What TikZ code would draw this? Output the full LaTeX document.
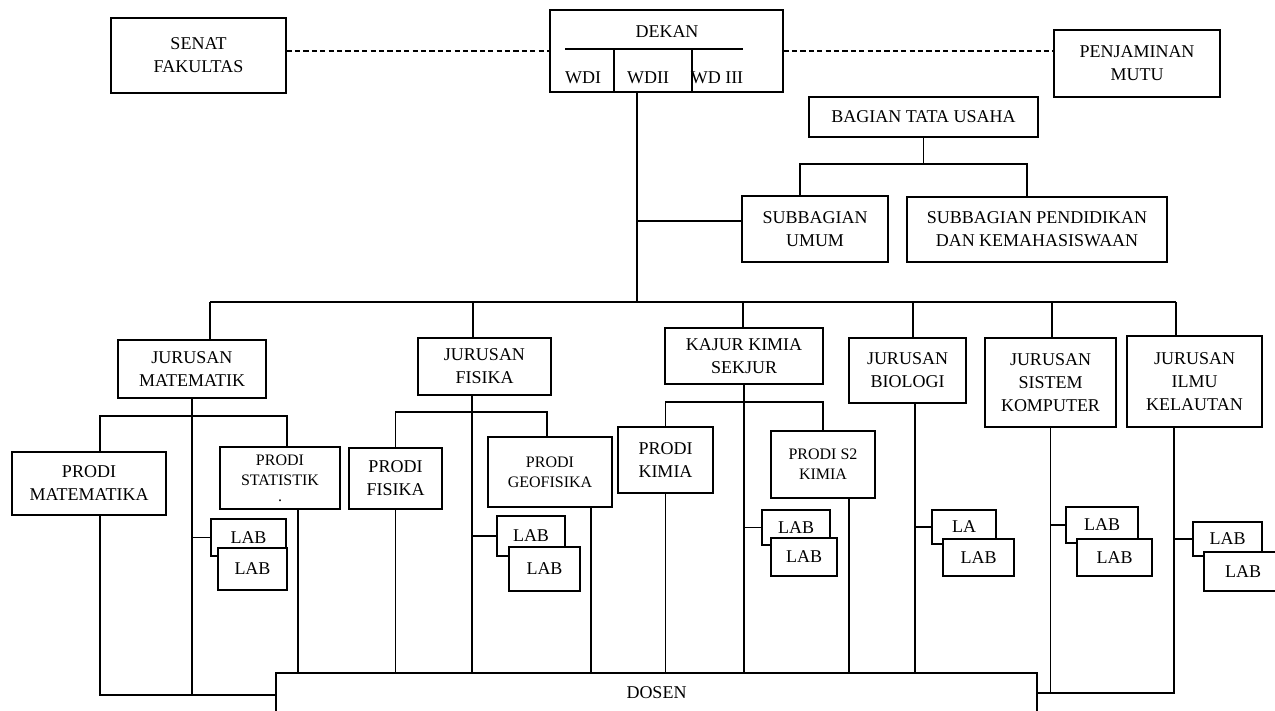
\documentclass[tikz,border=0pt]{standalone}
\usepackage{fontspec}
\setmainfont{Liberation Serif}
\usetikzlibrary{positioning}

\begin{document}
\begin{tikzpicture}[
  x=0.5pt, y=-0.5pt,
  line width=0.55pt,
  font=\fontsize{9}{11.5}\selectfont,
  unit/.style={draw, align=center, inner sep=1pt},
  prodi/.style={draw, align=center, inner sep=1pt, font=\fontsize{8}{10}\selectfont},
  lab/.style={draw, fill=white, inner sep=1pt},
  infl/.style={dash pattern=on 2.6pt off 1.6pt}
]
\useasboundingbox (0,0) rectangle (1275,711);

% pimpinan
\node[unit, minimum width=87.5pt, minimum height=37.5pt] (senat) at (198.5,55.5) {SENAT\\FAKULTAS};
\node[unit, minimum width=116.5pt, minimum height=41pt] (dekan) at (666.5,51) {};
\node (dekanTxt) at (667,32) {DEKAN};
\node (wd1) at (583,78) {WDI};
\node (wd2) at (648,78) {WDII};
\node (wd3) at (717,78) {WD III};
\draw (565,49) -- (743,49);
\draw (614,49) -- (614,91);
\draw (692,49) -- (692,91);
\node[unit, minimum width=83pt, minimum height=33.5pt] (penj) at (1137,63.5) {PENJAMINAN\\MUTU};

% tata usaha
\node[unit, minimum width=114.5pt, minimum height=20pt] (btu) at (923.5,117) {BAGIAN TATA USAHA};
\node[unit, minimum width=73pt, minimum height=33pt] (sbUmum) at (815,229) {SUBBAGIAN\\UMUM};
\node[unit, minimum width=130pt, minimum height=32.5pt] (sbPend) at (1037,229.5) {SUBBAGIAN PENDIDIKAN\\DAN KEMAHASISWAAN};

% jurusan
\node[unit, minimum width=74pt, minimum height=29pt] (jMat) at (192,369) {JURUSAN\\MATEMATIK};
\node[unit, minimum width=66.5pt, minimum height=28.5pt] (jFis) at (484.5,366.5) {JURUSAN\\FISIKA};
\node[unit, minimum width=79pt, minimum height=28pt] (jKim) at (744,356) {KAJUR KIMIA\\SEKJUR};
\node[unit, minimum width=58.5pt, minimum height=32.5pt] (jBio) at (907.5,370.5) {JURUSAN\\BIOLOGI};
\node[unit, minimum width=65.5pt, minimum height=44.5pt] (jSis) at (1050.5,382.5) {JURUSAN\\SISTEM\\KOMPUTER};
\node[unit, minimum width=67.5pt, minimum height=45.5pt] (jIlm) at (1194.5,381.5) {JURUSAN\\ILMU\\KELAUTAN};

% prodi
\node[unit, minimum width=77pt, minimum height=31.5pt] (pMat) at (89,483.5) {PRODI\\MATEMATIKA};
\node[prodi, minimum width=60pt, minimum height=31pt] (pStat) at (280,478) {PRODI\\STATISTIK\\[-2pt].};
\node[unit, minimum width=46.5pt, minimum height=30.5pt] (pFis) at (395.5,478.5) {PRODI\\FISIKA};
\node[prodi, minimum width=62pt, minimum height=35pt] (pGeo) at (550,472) {PRODI\\GEOFISIKA};
\node[unit, minimum width=47.5pt, minimum height=33pt] (pKim) at (665.5,460) {PRODI\\KIMIA};
\node[prodi, minimum width=52pt, minimum height=33.5pt] (pS2) at (823,464.5) {PRODI S2\\KIMIA};

\node[unit, minimum width=380.5pt, minimum height=20pt] (dosen) at (656.5,693) {DOSEN};

% garis komando
\draw[infl] (senat.east |- dekan.west) -- (dekan.west);
\draw[infl] (dekan.east) -- (penj.west |- dekan.east);
\coordinate (hub) at (637,221);
\coordinate (bus) at (637,302);
\coordinate (tuBar) at (923.5,164);
\draw (dekan.south -| bus) -- (bus);
\draw (hub) -- (hub -| sbUmum.west);
\draw (btu.south) -- (tuBar);
\draw (sbUmum.north -| 800,0) |- (1027,164) -- (sbPend.north -| 1027,0);
\draw (210,302) -- (1176,302);
\foreach \n/\x in {jMat/210, jFis/473, jKim/743, jBio/913, jSis/1052, jIlm/1176}
  \draw (\n.north -| \x,0) -- (\x,302);

% matematika
\draw (jMat.south) -- (jMat.south |- 0,695);
\draw (pMat.north -| 100,0) -- (100,416) -- (287,416) -- (pStat.north -| 287,0);
\draw (pMat.south -| 100,0) |- (dosen.west |- 0,695);
\draw (pStat.south -| 298,0) -- (dosen.north -| 298,0);

% fisika
\draw (jFis.south -| 472,0) -- (dosen.north -| 472,0);
\draw (pFis.north) |- (547,412) -- (pGeo.north -| 547,0);
\draw (pFis.south) -- (dosen.north -| pFis.south);
\draw (pGeo.south -| 591,0) -- (dosen.north -| 591,0);

% kimia
\draw (jKim.south) -- (dosen.north -| jKim.south);
\draw (pKim.north) |- (pS2.north |- 0,402) -- (pS2.north);
\draw (pKim.south) -- (dosen.north -| pKim.south);
\draw (pS2.south -| 849,0) -- (dosen.north -| 849,0);

% biologi, sistem komputer, ilmu kelautan
\draw (jBio.south -| 915,0) -- (dosen.north -| 915,0);
\draw (jSis.south) -- (jSis.south |- 0,694);
\draw (dosen.east |- 0,693) -| (jIlm.south -| 1174,0);

% lab
\node[lab, minimum width=37.5pt, minimum height=18.5pt] (matL1) at (248.5,537.5) {LAB};
\node[lab, minimum width=34.5pt, minimum height=21pt] (matL2) at (252.5,569) {LAB};
\node[lab, minimum width=34pt, minimum height=20pt] (fisL1) at (531,536) {LAB};
\node[lab, minimum width=35.5pt, minimum height=22pt] (fisL2) at (544.5,569) {LAB};
\node[lab, minimum width=34pt, minimum height=17.5pt] (kimL1) at (796,527.5) {LAB};
\node[lab, minimum width=33pt, minimum height=19pt] (kimL2) at (804,557) {LAB};
\node[lab, minimum width=32pt, minimum height=17pt] (bioL1) at (964,527) {LA};
\node[lab, minimum width=35.5pt, minimum height=18.5pt] (bioL2) at (978.5,557.5) {LAB};
\node[lab, minimum width=36pt, minimum height=18pt] (sisL1) at (1102,525) {LAB};
\node[lab, minimum width=37.5pt, minimum height=18.5pt] (sisL2) at (1114.5,557.5) {LAB};
\node[lab, minimum width=34.5pt, minimum height=17pt] (ilmL1) at (1227.5,539) {LAB};
\node[lab, minimum width=39pt, minimum height=19.5pt] (ilmL2) at (1243,571.5) {LAB};

\draw (matL1.west -| jMat.south) -- (matL1.west);
\draw (fisL1.west -| 472,0) -- (fisL1.west);
\draw (kimL1.west -| jKim.south) -- (kimL1.west);
\draw (bioL1.west -| 915,0) -- (bioL1.west);
\draw (sisL1.west -| jSis.south) -- (sisL1.west);
\draw (ilmL1.west -| 1174,0) -- (ilmL1.west);

\end{tikzpicture}
\end{document}
